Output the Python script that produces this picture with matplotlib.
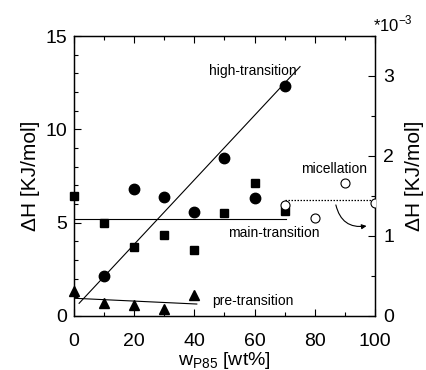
import matplotlib
matplotlib.use("Agg")
import matplotlib.pyplot as plt
from matplotlib.ticker import MultipleLocator

plt.rcParams['font.family'] = ['Liberation Sans', 'DejaVu Sans']
plt.rcParams['mathtext.fontset'] = 'custom'
plt.rcParams['mathtext.rm'] = 'Liberation Sans'

# high-transition (filled circles)
high_x = [10, 20, 30, 40, 50, 60, 70]
high_y = [2.16, 6.8, 6.36, 5.57, 8.48, 6.3, 12.32]
high_fit_x = [1.7, 75.1]
high_fit_y = [0.68, 13.36]

# main-transition (filled squares)
main_x = [0, 10, 20, 30, 40, 50, 60, 70]
main_y = [6.43, 4.96, 3.71, 4.34, 3.54, 5.53, 7.1, 5.62]
main_fit_x = [0, 70.4]
main_fit_y = [5.18, 5.18]

# pre-transition (filled triangles)
pre_x = [0, 10, 20, 30, 40]
pre_y = [1.34, 0.71, 0.59, 0.36, 1.12]
pre_fit_x = [0, 40.8]
pre_fit_y = [0.95, 0.64]

# micellation (open circles, right axis, *1e-3)
mic_x = [70, 80, 90, 100]
mic_y = [1.39, 1.22, 1.66, 1.41]
mic_line_x = [70, 100]
mic_line_y = [1.45, 1.45]

fig = plt.figure(figsize=(4.27, 3.70), dpi=100)
ax = fig.add_axes([0.1733, 0.146, 0.7049, 0.7567])
ax2 = ax.twinx()

ax.plot(high_fit_x, high_fit_y, color='black', lw=0.8)
ax.plot(main_fit_x, main_fit_y, color='black', lw=0.8)
ax.plot(pre_fit_x, pre_fit_y, color='black', lw=0.8)
ax.plot(high_x, high_y, 'o', color='black', ms=7.5, clip_on=False)
ax.plot(main_x, main_y, 's', color='black', ms=5.5, clip_on=False)
ax.plot(pre_x, pre_y, '^', color='black', ms=7.5, clip_on=False)

ax2.plot(mic_line_x, mic_line_y, color='black', lw=0.9, ls=(0, (1.2, 1.2)))
ax2.plot(mic_x, mic_y, 'o', mfc='white', mec='black', mew=0.8, ms=6.5,
         zorder=5)

ax.set_xlim(0, 100)
ax.set_ylim(0, 15)
ax2.set_ylim(0, 3.5)

ax.xaxis.set_major_locator(MultipleLocator(20))
ax.xaxis.set_minor_locator(MultipleLocator(10))
ax.yaxis.set_major_locator(MultipleLocator(5))
ax.yaxis.set_minor_locator(MultipleLocator(1))
ax2.yaxis.set_major_locator(MultipleLocator(1))
ax2.yaxis.set_minor_locator(MultipleLocator(0.5))

ax.tick_params(which='both', direction='in', top=True, labelsize=14, width=0.8)
ax.tick_params(which='major', length=5)
ax.tick_params(which='minor', length=3)
ax2.tick_params(which='both', direction='in', labelsize=14, width=0.8)
ax2.tick_params(which='major', length=5, pad=6)
ax2.tick_params(which='minor', length=3)
ax.tick_params(axis='x', pad=12)
ax.tick_params(axis='y', pad=5)

ax.set_ylabel('ΔH [KJ/mol]', fontsize=15, labelpad=4)
ax2.set_ylabel('ΔH [KJ/mol]', fontsize=15, labelpad=8)
ax.set_xlabel(r'w$_{\mathrm{P85}}$ [wt%]', fontsize=14, labelpad=0)

ax2.text(0.993, 1.005, r'*10$^{\mathrm{-3}}$', transform=ax2.transAxes,
         fontsize=12, ha='left', va='bottom')

ax.text(59.4, 13.1, 'high-transition', fontsize=10, ha='center', va='center')
ax.text(86.4, 7.9, 'micellation', fontsize=10, ha='center', va='center')
ax.text(66.4, 4.43, 'main-transition', fontsize=10, ha='center', va='center')
ax.text(59.5, 0.82, 'pre-transition', fontsize=10, ha='center', va='center')

ax.annotate('', xy=(97.2, 4.82), xytext=(87.0, 5.95),
            arrowprops=dict(arrowstyle='-|>', color='black', lw=0.8,
                            mutation_scale=7, shrinkA=0, shrinkB=0,
                            connectionstyle='arc3,rad=0.45'))

for a in (ax, ax2):
    for s in a.spines.values():
        s.set_linewidth(0.9)

fig.savefig('out.png', dpi=100)
